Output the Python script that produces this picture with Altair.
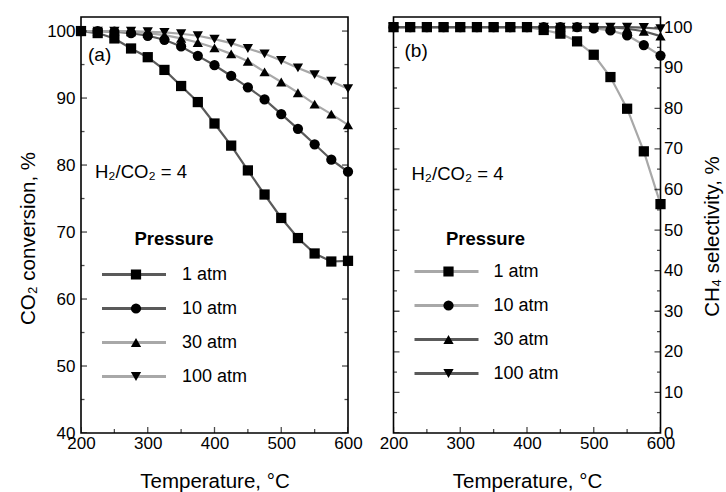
import altair as alt
import pandas as pd

FONT = "Liberation Sans"

# Reaction temperature (deg C), common to both panels
temperature = [200, 225, 250, 275, 300, 325, 350, 375, 400, 425, 450, 475, 500, 525, 550, 575, 600]
pressures = ["1 atm", "10 atm", "30 atm", "100 atm"]
marker_shapes = ["square", "circle", "triangle-up", "triangle-down"]

# (a) CO2 conversion, %
conv_1atm = [100.0, 99.7, 98.9, 97.4, 96.1, 94.2, 91.8, 89.4, 86.2, 82.9, 79.2, 75.6, 72.1, 69.1, 66.8, 65.6, 65.7]
conv_10atm = [100.0, 100.0, 99.9, 99.7, 99.3, 98.7, 97.7, 96.3, 94.9, 93.3, 91.6, 89.8, 87.6, 85.4, 83.1, 80.8, 79.0]
conv_30atm = [100.0, 100.0, 100.0, 99.9, 99.7, 99.4, 98.9, 98.3, 97.5, 96.6, 95.5, 93.9, 92.4, 90.8, 89.1, 87.6, 86.0]
conv_100atm = [100.0, 100.0, 100.0, 100.0, 99.9, 99.8, 99.6, 99.3, 98.8, 98.2, 97.4, 96.6, 95.6, 94.5, 93.5, 92.5, 91.4]

# (b) CH4 selectivity, %
sel_1atm = [100.0, 100.0, 100.0, 100.0, 100.0, 100.0, 100.0, 100.0, 100.0, 99.3, 98.4, 96.5, 93.2, 87.7, 79.9, 69.4, 56.4]
sel_10atm = [100.0, 100.0, 100.0, 100.0, 100.0, 100.0, 100.0, 100.0, 100.0, 100.0, 100.0, 100.0, 99.7, 99.2, 98.0, 95.6, 93.0]
sel_30atm = [100.0, 100.0, 100.0, 100.0, 100.0, 100.0, 100.0, 100.0, 100.0, 100.0, 100.0, 100.0, 100.0, 100.0, 99.6, 99.0, 97.8]
sel_100atm = [100.0, 100.0, 100.0, 100.0, 100.0, 100.0, 100.0, 100.0, 100.0, 100.0, 100.0, 100.0, 100.0, 100.0, 100.0, 99.9, 99.6]

# Axis tick values
x_major = [200, 300, 400, 500, 600]
x_minor = [250, 350, 450, 550]
conv_major = [40, 50, 60, 70, 80, 90, 100]
conv_minor = [45, 55, 65, 75, 85, 95]
sel_major = [0, 10, 20, 30, 40, 50, 60, 70, 80, 90, 100]
sel_minor = [5, 15, 25, 35, 45, 55, 65, 75, 85, 95]

DARK = "#5a5a5a"
LIGHT = "#a8a8a8"
W, H = 267, 416

# legend geometry
LEG_X = 19
LEG_TITLE_SIZE = 18.5
LEG_LABEL_SIZE = 18
ROW_PAD = 16


def long_table(series):
    rows = []
    for p, vals in zip(pressures, series):
        for t, v in zip(temperature, vals):
            rows.append({"T": t, "value": v, "Pressure": p, "Marker": p})
    return pd.DataFrame(rows)


def tick_tables(y_major, y_minor, y_min):
    ytk = []
    for edge in (200, 600):
        ytk += [{"T": edge, "value": v, "len": 12} for v in y_major]
        ytk += [{"T": edge, "value": v, "len": 7} for v in y_minor]
    xtk = [{"T": t, "value": y_min, "len": 12} for t in x_major]
    xtk += [{"T": t, "value": y_min, "len": 8} for t in x_minor]
    return pd.DataFrame(ytk), pd.DataFrame(xtk)


def panel(series, y_domain, y_major, y_minor, y_axis, line_colors, tag, tag_xy,
          ratio_xy, leg_y, title_pad, label_offset):
    df = long_table(series)
    ytk, xtk = tick_tables(y_major, y_minor, y_domain[0])

    x_enc = alt.X(
        "T:Q",
        scale=alt.Scale(domain=[200, 600], nice=False, zero=False),
        axis=alt.Axis(
            values=x_major, format="d", ticks=False, tickSize=0, domain=False, grid=False,
            labelFontSize=17, labelPadding=2, labelOverlap=False, labelFlush=False,
            title="Temperature, °C", titleFontSize=20.5, titleFontWeight="normal",
            titleX=W / 2, titleY=54, titleAlign="center", titleBaseline="alphabetic",
        ),
    )
    y_enc = alt.Y(
        "value:Q",
        scale=alt.Scale(domain=y_domain, nice=False, zero=False),
        axis=y_axis,
    )

    # gray connecting lines; their legend carries the title and the labels
    lines = alt.Chart(df).mark_line(strokeWidth=2.2).encode(
        x=x_enc,
        y=y_enc,
        color=alt.Color(
            "Pressure:N", sort=pressures, scale=alt.Scale(range=line_colors),
            legend=alt.Legend(
                title="Pressure", orient="none", legendX=LEG_X, legendY=leg_y, padding=0,
                symbolType="stroke", symbolSize=4096, symbolStrokeWidth=3.2,
                clipHeight=16, rowPadding=ROW_PAD, labelOffset=label_offset,
                labelFontSize=LEG_LABEL_SIZE, labelFont=FONT, labelColor="black",
                titleFontSize=LEG_TITLE_SIZE, titleFont=FONT, titleFontWeight="bold",
                titleColor="black", titleAnchor="middle", titlePadding=title_pad,
            ),
        ),
    )
    # black markers; their legend only adds the symbols on top of the gray strokes
    points = alt.Chart(df).mark_point(filled=True, size=105, color="black", opacity=1).encode(
        x=x_enc,
        y=y_enc,
        shape=alt.Shape(
            "Marker:N", sort=pressures, scale=alt.Scale(range=marker_shapes),
            legend=alt.Legend(
                title=None, orient="none", legendX=LEG_X,
                legendY=leg_y + LEG_TITLE_SIZE + title_pad, padding=0,
                symbolSize=105, symbolFillColor="black", symbolStrokeColor="black",
                symbolStrokeWidth=0, symbolOffset=27, clipHeight=16, rowPadding=ROW_PAD,
                labelExpr="''", labelFontSize=LEG_LABEL_SIZE, labelFont=FONT,
            ),
        ),
    )
    y_ticks = alt.Chart(ytk).mark_tick(orient="horizontal", thickness=1.3, color="black", clip=True).encode(
        x=x_enc, y=y_enc, size=alt.Size("len:Q", scale=None, legend=None)
    )
    x_ticks = alt.Chart(xtk).mark_tick(orient="vertical", thickness=1.3, color="black", clip=True).encode(
        x=x_enc, y=y_enc, size=alt.Size("len:Q", scale=None, legend=None)
    )
    tag_text = alt.Chart(pd.DataFrame({"s": [tag]})).mark_text(
        align="left", baseline="middle", fontSize=19, font=FONT, color="black"
    ).encode(text="s:N", x=alt.value(tag_xy[0]), y=alt.value(tag_xy[1]))
    ratio_text = alt.Chart(pd.DataFrame({"s": ["H₂/CO₂ = 4"]})).mark_text(
        align="left", baseline="alphabetic", fontSize=18.5, font=FONT, color="black"
    ).encode(text="s:N", x=alt.value(ratio_xy[0]), y=alt.value(ratio_xy[1]))

    return alt.layer(lines, points, y_ticks, x_ticks, tag_text, ratio_text).resolve_legend(
        color="independent", shape="independent"
    ).properties(width=W, height=H)


left_axis = alt.Axis(
    orient="left", values=conv_major, ticks=False, tickSize=0, domain=False, grid=False,
    labelFontSize=17, labelPadding=6, labelOverlap=False, labelFlush=False,
    title="CO₂ conversion, %", titleFontSize=20.5, titleFontWeight="normal",
    titleAngle=270, titleX=-53, titleY=221, titleAlign="center", titleBaseline="middle",
)
right_axis = alt.Axis(
    orient="right", values=sel_major, ticks=False, tickSize=0, domain=False, grid=False,
    labelFontSize=17, labelPadding=3, labelOverlap=False, labelFlush=False,
    title="CH₄ selectivity, %", titleFontSize=20.5, titleFontWeight="normal",
    titleAngle=270, titleX=52, titleY=219, titleAlign="center", titleBaseline="middle",
)

panel_a = panel(
    [conv_1atm, conv_10atm, conv_30atm, conv_100atm], [40, 102.1], conv_major, conv_minor,
    left_axis, [DARK, DARK, LIGHT, LIGHT], "(a)", (7, 38), (14, 161), 213, 18, 14,
)
panel_b = panel(
    [sel_1atm, sel_10atm, sel_30atm, sel_100atm], [0, 102.5], sel_major, sel_minor,
    right_axis, [LIGHT, LIGHT, DARK, DARK], "(b)", (11, 34), (18, 163), 213, 15, 13,
)

chart = alt.hconcat(panel_a, panel_b, spacing=45.5, bounds="flush").resolve_scale(
    color="independent", shape="independent"
).resolve_legend(
    color="independent", shape="independent"
).properties(
    padding={"left": 17, "top": 16, "right": 0, "bottom": 0}, background="white"
).configure_view(
    stroke="black", strokeWidth=1.6
).configure_axis(
    labelFont=FONT, titleFont=FONT, labelColor="black", titleColor="black"
).configure_legend(
    labelFont=FONT, titleFont=FONT
)

chart.save("out.html", embed_options={"renderer": "svg", "actions": False})
